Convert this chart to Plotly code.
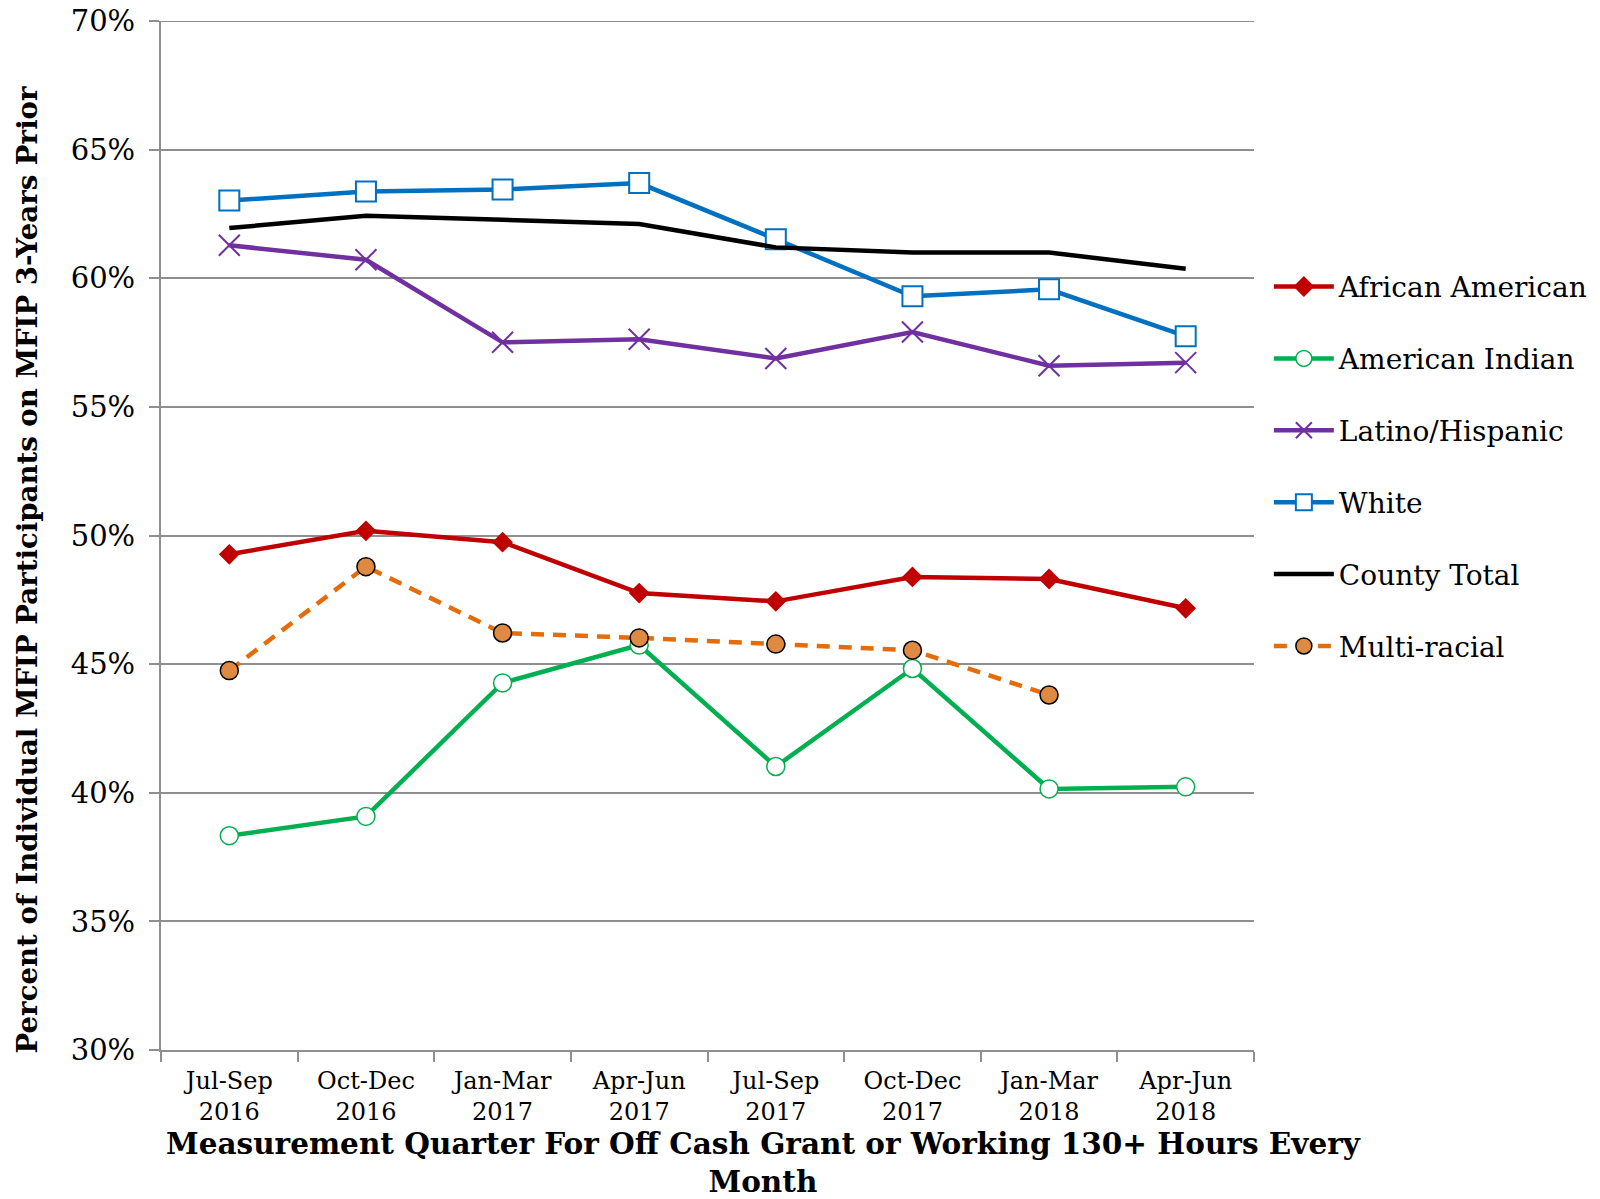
import plotly.graph_objects as go

quarters = ["Jul-Sep<br>2016", "Oct-Dec<br>2016", "Jan-Mar<br>2017", "Apr-Jun<br>2017",
            "Jul-Sep<br>2017", "Oct-Dec<br>2017", "Jan-Mar<br>2018", "Apr-Jun<br>2018"]

african_american = [49.27, 50.18, 49.74, 47.76, 47.44, 48.39, 48.31, 47.17]
american_indian = [38.33, 39.08, 44.27, 45.74, 41.02, 44.83, 40.15, 40.23]
latino_hispanic = [61.28, 60.72, 57.51, 57.63, 56.88, 57.91, 56.60, 56.72]
white = [63.02, 63.37, 63.45, 63.70, 61.52, 59.30, 59.57, 57.75]
county_total = [61.95, 62.43, 62.27, 62.11, 61.20, 61.00, 61.00, 60.37]
multi_racial = [44.75, 48.79, 46.21, 46.02, 45.78, 45.54, 43.80, None]

FONT = "DejaVu Serif"
GRID = "#8f8f8f"

fig = go.Figure()

series = [
    ("African American", african_american, dict(color="#C00000", width=4.5), dict(symbol="diamond", size=16, color="#C00000")),
    ("American Indian", american_indian, dict(color="#00B050", width=4.5), dict(symbol="circle", size=18, color="white", line=dict(color="#00B050", width=1.5))),
    ("Latino/Hispanic", latino_hispanic, dict(color="#7030A0", width=4.5), dict(symbol="x-thin-open", size=21, color="#7030A0", line=dict(color="#7030A0", width=2))),
    ("White", white, dict(color="#0070C0", width=4.5), dict(symbol="square", size=20, color="white", line=dict(color="#0070C0", width=2))),
    ("County Total", county_total, dict(color="black", width=4.5), None),
    ("Multi-racial", multi_racial, dict(color="#E46C0A", width=4.5, dash="13px,9px"), dict(symbol="circle", size=18, color="#DE8A43", line=dict(color="black", width=1.5))),
]

for i, (name, vals, line, marker) in enumerate(series):
    fig.add_trace(go.Scatter(
        x=quarters, y=vals, name=name,
        mode="lines+markers" if marker else "lines",
        line=line, marker=marker if marker else None,
        legendgroup=f"g{i}", connectgaps=False,
    ))

fig.update_layout(
    width=1600, height=1199,
    margin=dict(l=161, r=346, t=21, b=149, autoexpand=False),
    paper_bgcolor="white", plot_bgcolor="white",
    font=dict(family=FONT, color="black"),
    showlegend=True,
    legend=dict(x=1.0136, y=0.766, xanchor="left", yanchor="top",
                font=dict(family=FONT, size=28, color="black"),
                tracegroupgap=32.5, itemwidth=60, bgcolor="rgba(0,0,0,0)"),
    xaxis=dict(type="category", range=[-0.5, 7.5], showgrid=False,
               showline=True, linecolor=GRID, linewidth=2,
               ticks="outside", tickson="boundaries", ticklen=10, tickcolor=GRID, tickwidth=1.5,
               ticklabelstandoff=8,
               tickfont=dict(family=FONT, size=24, color="black")),
    yaxis=dict(range=[30, 70], dtick=5, tick0=30, ticksuffix="%",
               showgrid=True, gridcolor=GRID, gridwidth=2,
               showline=True, linecolor=GRID, linewidth=2, zeroline=False,
               ticks="outside", ticklen=10, tickcolor=GRID, tickwidth=1.5,
               ticklabelstandoff=8, ticklabeloverflow="allow",
               tickfont=dict(family=FONT, size=29, color="black")),
    shapes=[dict(type="line", xref="paper", yref="y", x0=0, x1=1, y0=70, y1=70,
                 line=dict(color=GRID, width=2), layer="below")],
    annotations=[
        dict(text="<b>Percent of Individual MFIP Participants on MFIP 3-Years Prior</b>",
             xref="paper", yref="paper", x=-0.1226, y=0.467, textangle=-90,
             xanchor="center", yanchor="middle", showarrow=False,
             font=dict(family=FONT, size=27.6, color="black")),
        dict(text="<b>Measurement Quarter For Off Cash Grant or Working 130+ Hours Every<br>Month</b>",
             xref="paper", yref="paper", x=0.551, y=-0.1098,
             xanchor="center", yanchor="middle", showarrow=False,
             font=dict(family=FONT, size=29.5, color="black")),
    ],
)

fig.write_html("out.html", config={"displayModeBar": False},
               post_script="document.body.style.margin='0';")
